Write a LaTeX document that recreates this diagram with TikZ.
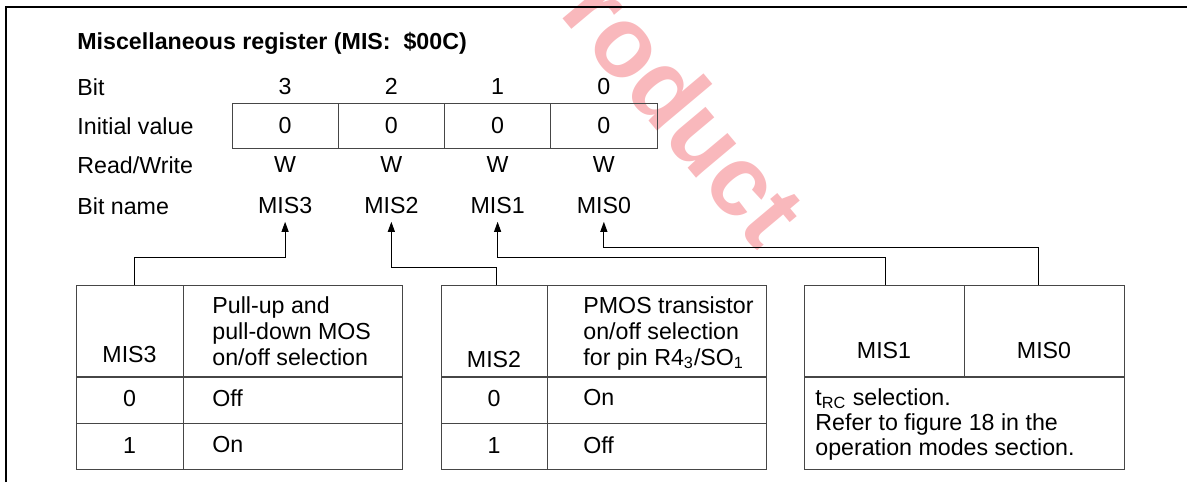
\documentclass[tikz,border=0pt]{standalone}
\usepackage{fontspec}
\setmainfont{Liberation Sans}
\usetikzlibrary{arrows.meta,positioning,calc}
\definecolor{wmpink}{RGB}{249,184,188}
\definecolor{gridgray}{RGB}{70,70,70}

\begin{document}
\begin{tikzpicture}[x=0.5pt, y=-0.5pt, font=\fontsize{11.6}{13}\selectfont,
  lbl/.style={anchor=west, inner sep=0pt},
  val/.style={inner sep=0pt, text height=8.4pt, text depth=0pt},
  bitname/.style={inner sep=4pt, text height=8.4pt, text depth=0pt},
  cell/.style={draw=gridgray, line width=0.5pt},
  headrule/.style={draw=gridgray, line width=0.8pt},
  wire/.style={line width=0.5pt, {Triangle[length=5pt,width=3.5pt]}-}]
  \useasboundingbox (0,0) rectangle (1187,482);

  % Watermark
  \begin{scope}
    \clip (0,0) rectangle (1187,482);
    \node[text=wmpink, font=\fontsize{50}{60}\selectfont\bfseries, rotate=-50] (wm) at (664,84) {Product};
  \end{scope}

  % Frame
  \draw[line width=1pt] (6,482) -- (6,7) -- (1187,7);

  % Title and row labels
  \node[lbl, font=\fontsize{11.6}{13}\selectfont\bfseries] (title) at (77,43) {Miscellaneous register (MIS:\ \ \$00C)};
  \node[lbl] (rbit) at (77,87) {Bit};
  \node[lbl] (rinit) at (77,126) {Initial value};
  \node[lbl] (rrw) at (77,165) {Read/Write};
  \node[lbl] (rname) at (77,206) {Bit name};

  % Register cells
  \foreach \i/\b in {0/3,1/2,2/1,3/0} {
    \draw[cell] (232+106.25*\i,103) rectangle ++(106.25,45);
    \node[val] (b\b) at (285.1+106.25*\i,86) {\b};
    \node[val] (v\b) at (285.1+106.25*\i,125) {0};
    \node[val] (w\b) at (285.1+106.25*\i,164) {W};
    \node[bitname] (nm\b) at (285.1+106.25*\i,205) {MIS\b};
  }

  % MIS3 table
  \draw[cell] (76,285) rectangle (402,469);
  \draw[cell] (183,285) -- (183,469);
  \draw[headrule] (76,377) -- (402,377);
  \draw[cell] (76,423) -- (402,423);
  \node[val] (t3h) at (129.5,354) {MIS3};
  \node[lbl, align=left] (t3d) at (212,331) {Pull-up and\\pull-down MOS\\on/off selection};
  \node[val] (t3z) at (129.5,398) {0};
  \node[lbl] (t3off) at (212,398) {Off};
  \node[val] (t3o) at (129.5,445) {1};
  \node[lbl] (t3on) at (212,445) {On};

  % MIS2 table
  \draw[cell] (441,285) rectangle (766,469);
  \draw[cell] (547,285) -- (547,469);
  \draw[headrule] (441,377) -- (766,377);
  \draw[cell] (441,423) -- (766,423);
  \node[val] (t2h) at (494,359) {MIS2};
  \node[lbl, align=left] (t2d) at (583,333) {PMOS transistor\\on/off selection\\for pin R4\textsubscript{3}/SO\textsubscript{1}};
  \node[val] (t2z) at (494,398) {0};
  \node[lbl] (t2on) at (583,398) {On};
  \node[val] (t2o) at (494,445) {1};
  \node[lbl] (t2off) at (583,445) {Off};

  % MIS1/MIS0 table
  \draw[cell] (804,285) rectangle (1124,469);
  \draw[cell] (964,285) -- (964,377);
  \draw[headrule] (804,377) -- (1124,377);
  \node[val] (t1h) at (884,350) {MIS1};
  \node[val] (t0h) at (1044,350) {MIS0};
  \node[lbl, align=left, font=\fontsize{11.6}{12.5}\selectfont] (t10d) at (815,424) {t\textsubscript{RC} selection.\\Refer to figure 18 in the\\operation modes section.};

  % Connectors
  \coordinate (t3top) at (134,285);
  \coordinate (t2top) at (496,285);
  \coordinate (t1top) at (885,285);
  \coordinate (t0top) at (1038,285);
  \draw[wire] (nm3.south) -- ++(0,36) -| (t3top);
  \draw[wire] (nm2.south) -- ++(0,46) -| (t2top);
  \draw[wire] (nm1.south) -- ++(0,36) -| (t1top);
  \draw[wire] (nm0.south) -- ++(0,26) -| (t0top);
\end{tikzpicture}
\end{document}
